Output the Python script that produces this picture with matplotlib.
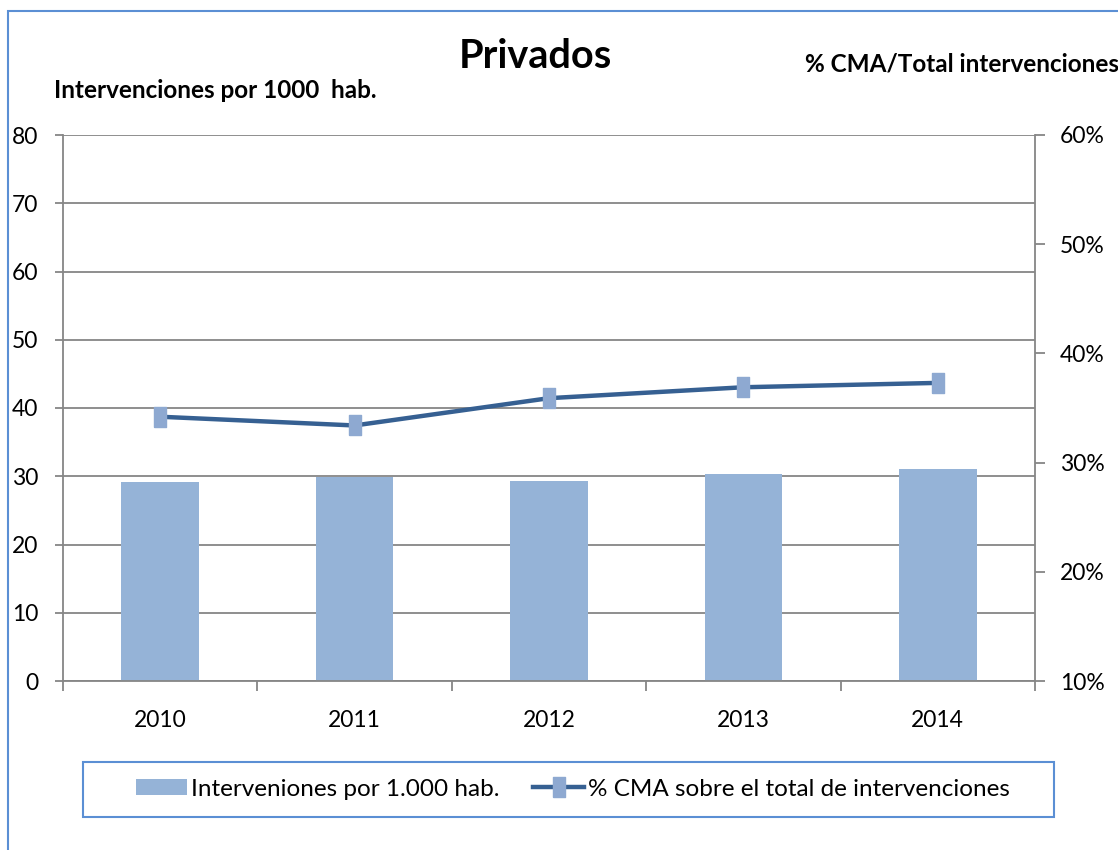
import numpy as np
import matplotlib
matplotlib.use('Agg')
import matplotlib.pyplot as plt
from matplotlib.patches import Rectangle, Patch
from matplotlib.lines import Line2D
from matplotlib.ticker import FuncFormatter

# Datos
years = ['2010', '2011', '2012', '2013', '2014']
intervenciones = [29.1, 29.9, 29.3, 30.4, 31.0]   # por 1000 hab.
pct_cma = [34.2, 33.4, 35.9, 36.9, 37.3]          # % CMA / total

plt.rcParams['font.family'] = ['Lato', 'DejaVu Sans']

W, H = 1118, 850
fig = plt.figure(figsize=(W / 100, H / 100), dpi=100)

bar_color = '#95B3D7'
line_color = '#366092'
marker_color = '#8EA9D1'
grid_color = '#868686'
frame_blue = '#5B8FD4'
tick_fs = 16.5

ax = fig.add_axes([63 / W, 1 - 681 / H, 972 / W, 546 / H])
ax2 = ax.twinx()

x = np.arange(len(years))
ax.bar(x, intervenciones, width=0.4, color=bar_color, zorder=2)
ax.set_xlim(-0.5, len(years) - 0.5)
ax.set_ylim(0, 80)
ax.set_yticks(range(0, 81, 10))
ax.grid(axis='y', color=grid_color, lw=1.3, zorder=0)
ax.set_axisbelow(True)
ax.set_xticks(x)
ax.set_xticklabels(years)
ax.set_xticks(np.arange(-0.5, len(years), 1), minor=True)
ax.tick_params(axis='x', which='major', length=0, pad=21, labelsize=tick_fs)
ax.tick_params(axis='x', which='minor', length=7, width=1.3, color=grid_color)
ax.tick_params(axis='y', length=6, width=1.3, color=grid_color, pad=12, labelsize=tick_fs)

# marcador rectangular (alto y estrecho)
rect_marker = [(-0.55, -1), (0.55, -1), (0.55, 1), (-0.55, 1), (-0.55, -1)]
ax2.plot(x, pct_cma, color=line_color, lw=3.2, marker=rect_marker, ms=14.5,
         mfc=marker_color, mec=marker_color, zorder=3)
ax2.set_ylim(10, 60)
ax2.set_yticks(range(10, 61, 10))
ax2.yaxis.set_major_formatter(FuncFormatter(lambda v, p: f'{v:.0f}%'))
ax2.tick_params(axis='y', length=7, width=1.3, color=grid_color, pad=11, labelsize=tick_fs)

for a in (ax, ax2):
    a.spines['top'].set_visible(False)
ax.spines['right'].set_visible(False)
ax.spines['left'].set_color(grid_color)
ax.spines['bottom'].set_color(grid_color)
ax.spines['left'].set_linewidth(1.3)
ax.spines['bottom'].set_linewidth(1.3)
ax2.spines['left'].set_visible(False)
ax2.spines['bottom'].set_visible(False)
ax2.spines['right'].set_color(grid_color)
ax2.spines['right'].set_linewidth(1.3)

# textos
fig.text(535 / W, 1 - 57 / H, 'Privados', ha='center', va='center',
         fontsize=28.5, fontweight='bold')
fig.text(215 / W, 1 - 90 / H, 'Intervenciones por 1000  hab.', ha='center',
         va='center', fontsize=17.5, fontweight='bold')
fig.text(805 / W, 1 - 64 / H, '% CMA/Total intervenciones', ha='left',
         va='center', fontsize=17.5, fontweight='bold')

# leyenda
handles = [Patch(facecolor=bar_color, edgecolor='none'),
           Line2D([0], [0], color=line_color, lw=3.2, marker=rect_marker, ms=14.5,
                  mfc=marker_color, mec=marker_color)]
labels = ['Interveniones por 1.000 hab.', '% CMA sobre el total de intervenciones']
fig.legend(handles, labels, loc='center', bbox_to_anchor=(573 / W, 1 - 789 / H),
           ncol=2, frameon=False, fontsize=17.5, handlelength=2.1, handleheight=0.6,
           handletextpad=0.15, columnspacing=1.4)
fig.patches.append(Rectangle((83 / W, 1 - 817 / H), 971 / W, 55 / H,
                             transform=fig.transFigure, fill=False,
                             edgecolor=frame_blue, lw=1.5))

# marco exterior del grafico
fig.patches.append(Rectangle((8 / W, -0.1), 1.2, 1.1 - 11 / H,
                             transform=fig.transFigure, fill=False,
                             edgecolor=frame_blue, lw=1.5))

fig.savefig('out.png', dpi=100)
